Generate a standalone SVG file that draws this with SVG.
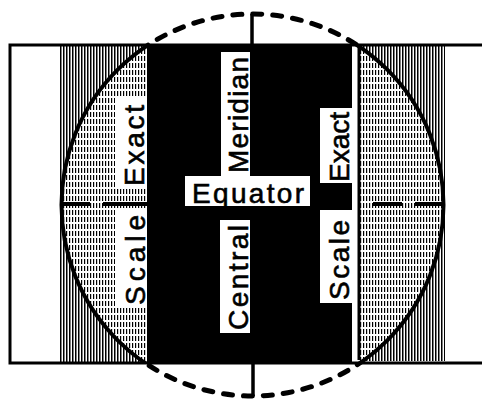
<svg xmlns="http://www.w3.org/2000/svg" width="482" height="400" viewBox="0 0 482 400">
<style>
.lbl{font-family:"Liberation Sans","DejaVu Sans",Arial,sans-serif;font-size:28px;fill:#000;stroke:#000;stroke-width:0.6}
.box{fill:#fff}
.ln{stroke:#000;fill:none}
</style>
<defs>
<pattern id="hd" width="3" height="4" patternUnits="userSpaceOnUse"><rect width="3" height="4" fill="#fff"/><rect width="1.5" height="4" fill="#000"/></pattern>
<pattern id="hl" width="3" height="7" patternUnits="userSpaceOnUse"><rect width="3" height="7" fill="#fff"/><rect width="1.2" height="5" fill="#000"/></pattern>
<clipPath id="inCircle"><circle cx="252.5" cy="205" r="191"/></clipPath>
<clipPath id="inRect"><rect x="0" y="45" width="482" height="318"/></clipPath>
<clipPath id="outRect"><rect x="0" y="0" width="482" height="45"/><rect x="0" y="363" width="482" height="37"/></clipPath>
<clipPath id="eqClip"><rect x="185" y="176" width="125" height="30"/></clipPath>
</defs>
<rect width="482" height="400" fill="#fff"/>
<g id="hatching">
<rect x="60" y="45" width="87" height="318" fill="url(#hd)"/>
<rect x="359" y="45" width="86" height="316" fill="url(#hd)"/>
<g clip-path="url(#inCircle)">
<rect x="60" y="45" width="87" height="318" fill="url(#hl)"/>
<rect x="359" y="45" width="86" height="316" fill="url(#hl)"/>
</g>
</g>
<rect id="band" x="147" y="45" width="205" height="318" fill="#000"/>
<line class="ln" x1="359" y1="45" x2="359" y2="360" stroke-width="3"/>
<rect id="frame" class="ln" x="10" y="45" width="490" height="318" stroke-width="3"/>
<g id="connectors">
<circle class="ln" cx="252.5" cy="205" r="191" stroke-width="4" clip-path="url(#inRect)"/>
<circle class="ln" cx="252.5" cy="205" r="191" stroke-width="5" stroke-dasharray="9 11" stroke-linecap="round" clip-path="url(#outRect)"/>
<g class="ln" stroke-width="4">
<line x1="62" y1="204" x2="90" y2="204"/>
<line x1="103" y1="204" x2="147" y2="204"/>
<line x1="373" y1="204" x2="402" y2="204"/>
<line x1="415" y1="204" x2="443" y2="204"/>
</g>
<g class="ln" stroke-width="3.5">
<line x1="252" y1="14" x2="252" y2="45"/>
<line x1="253" y1="363" x2="253" y2="396"/>
</g>
</g>
<g id="meridian">
<rect class="box" x="221" y="52" width="29" height="126"/>
<text class="lbl" transform="translate(247.5,173) rotate(-90)" textLength="116" lengthAdjust="spacing">Meridian</text>
</g>
<g id="equator">
<rect class="box" x="185" y="176" width="125" height="30"/>
<text class="lbl" x="192" y="202.5" textLength="112" lengthAdjust="spacing" clip-path="url(#eqClip)">Equator</text>
</g>
<g id="central">
<rect class="box" x="220" y="220" width="30" height="113"/>
<text class="lbl" transform="translate(247.5,330) rotate(-90)" textLength="105" lengthAdjust="spacing">Central</text>
</g>
<g id="left-exact">
<rect class="box" x="115" y="98" width="32" height="91"/>
<text class="lbl" transform="translate(143.5,186) rotate(-90)" textLength="81" lengthAdjust="spacing">Exact</text>
</g>
<g id="left-scale">
<rect class="box" x="115" y="210" width="32" height="98"/>
<text class="lbl" transform="translate(144.5,305) rotate(-90)" textLength="90" lengthAdjust="spacing">Scale</text>
</g>
<g id="right-exact">
<rect class="box" x="320" y="108" width="32" height="75"/>
<text class="lbl" transform="translate(348.5,182) rotate(-90)" textLength="70" lengthAdjust="spacing">Exact</text>
</g>
<g id="right-scale">
<rect class="box" x="320" y="210" width="33" height="93"/>
<text class="lbl" transform="translate(349,300) rotate(-90)" textLength="80" lengthAdjust="spacing">Scale</text>
</g>
</svg>
